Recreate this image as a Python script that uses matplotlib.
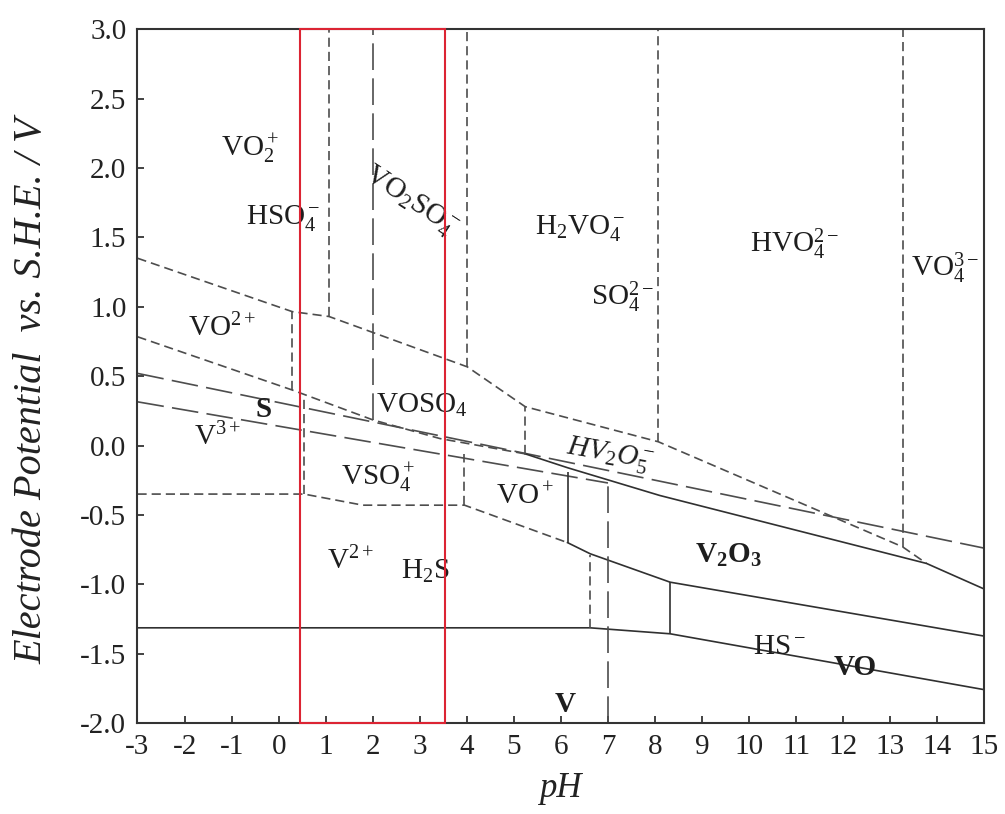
import matplotlib
matplotlib.use("Agg")
import matplotlib.pyplot as plt
from matplotlib.patches import Rectangle

plt.rcParams['font.family'] = ['Liberation Serif', 'DejaVu Serif']
plt.rcParams['mathtext.fontset'] = 'custom'
plt.rcParams['mathtext.rm'] = 'Liberation Serif'
plt.rcParams['mathtext.it'] = 'Liberation Serif:italic'
plt.rcParams['mathtext.bf'] = 'Liberation Serif:bold'
plt.rcParams['axes.unicode_minus'] = False

# ---- boundary lines (pH, E / V) ----
# vanadium aqueous boundaries (short dashes)
upper_ph = [-3, 0.29, 1.07, 4.01, 5.24, 8.07, 13.26, 13.77]
upper_E = [1.35, 0.965, 0.93, 0.567, 0.28, 0.027, -0.73, -0.85]
mid_ph = [-3, 0.29, 2.0, 3.43, 5.24]
mid_E = [0.784, 0.40, 0.185, 0.05, -0.06]
lower_ph = [-3, 0.54, 1.79, 3.95, 6.14]
lower_E = [-0.35, -0.35, -0.43, -0.43, -0.70]

# sulfur boundaries (long dashes)
s1_ph = [-3, 15]
s1_E = [0.52, -0.74]
s2_ph = [-3, 7.0]
s2_E = [0.315, -0.27]

# solid phase boundaries
solid_top_ph = [5.24, 6.14, 8.1, 13.77, 15]
solid_top_E = [-0.06, -0.16, -0.36, -0.85, -1.035]
solid_mid_ph = [6.14, 6.62, 8.32, 15]
solid_mid_E = [-0.70, -0.78, -0.985, -1.374]
solid_bot_ph = [-3, 6.62, 8.32, 15]
solid_bot_E = [-1.314, -1.314, -1.357, -1.76]

# vertical boundaries: pH, top E, bottom E
vdash_ph = [1.07, 4.01, 8.07, 13.26, 0.29, 0.54, 3.95, 5.24, 6.62]
vdash_top = [3.0, 3.0, 3.0, 3.0, 0.96, 0.36, -0.06, 0.28, -0.79]
vdash_bot = [0.93, 0.567, 0.027, -0.73, 0.40, -0.35, -0.43, -0.06, -1.314]
vlong_ph = [2.0, 7.0]
vlong_top = [3.0, -0.27]
vlong_bot = [0.185, -2.0]
vsolid_ph = [6.14, 8.32]
vsolid_top = [-0.19, -0.985]
vsolid_bot = [-0.70, -1.357]

box_ph = [0.45, 3.53]

x_ticks = list(range(-3, 16))
y_ticks = [-2.0, -1.5, -1.0, -0.5, 0.0, 0.5, 1.0, 1.5, 2.0, 2.5, 3.0]

dash_c = '#4d4d4d'
solid_c = '#303030'
short = (5.5, 3)
long_ = (16, 5)

fig = plt.figure(figsize=(10.05, 8.14), dpi=100)
ax = fig.add_axes([0.1368, 0.1118, 0.8427, 0.8522])

for xs, ys in [(upper_ph, upper_E), (mid_ph, mid_E), (lower_ph, lower_E)]:
    ax.plot(xs, ys, color=dash_c, lw=1.2, dashes=short)
for xs, ys in [(s1_ph, s1_E), (s2_ph, s2_E)]:
    ax.plot(xs, ys, color=dash_c, lw=1.2, dashes=long_)
for xs, ys in [(solid_top_ph, solid_top_E), (solid_mid_ph, solid_mid_E), (solid_bot_ph, solid_bot_E)]:
    ax.plot(xs, ys, color=solid_c, lw=1.2)

ax.vlines(vdash_ph, vdash_bot, vdash_top, color=dash_c, lw=1.2, linestyles=[(0, short)])
ax.vlines(vlong_ph, vlong_bot, vlong_top, color=dash_c, lw=1.2, linestyles=[(0, long_)])
ax.vlines(vsolid_ph, vsolid_bot, vsolid_top, color=solid_c, lw=1.2)

ax.add_patch(Rectangle((box_ph[0], -2.0), box_ph[1] - box_ph[0], 5.0,
                       fill=False, edgecolor='#dc2433', lw=1.5, zorder=5, clip_on=False))

fs = 21
lab = dict(fontsize=fs, ha='center', va='center', color='#1e1e1e')
ax.text(-0.61, 2.14, r'VO$_2^+$', **lab)
ax.text(0.09, 1.64, r'HSO$_4^-$', **lab)
ax.text(2.8, 1.76, r'VO$_2$SO$_4^-$', rotation=-33, **lab)
ax.text(6.41, 1.57, r'H$_2$VO$_4^-$', **lab)
ax.text(10.97, 1.45, r'HVO$_4^{2-}$', **lab)
ax.text(14.16, 1.28, r'VO$_4^{3-}$', **lab)
ax.text(7.3, 1.07, r'SO$_4^{2-}$', **lab)
ax.text(-1.2, 0.85, r'VO$^{2+}$', **lab)
ax.text(-0.31, 0.26, 'S', fontweight='bold', **lab)
ax.text(-1.29, 0.06, r'V$^{3+}$', **lab)
ax.text(3.05, 0.29, r'VOSO$_4$', **lab)
ax.text(7.04, -0.07, r'$HV_2O_5^-$', rotation=-10, **lab)
ax.text(2.11, -0.23, r'VSO$_4^+$', **lab)
ax.text(5.24, -0.37, r'VO$^+$', **lab)
ax.text(9.55, -0.79, r'$\mathbf{V_2O_3}$', **lab)
ax.text(1.52, -0.83, r'V$^{2+}$', **lab)
ax.text(3.11, -0.91, r'H$_2$S', **lab)
ax.text(10.65, -1.45, r'HS$^-$', **lab)
ax.text(12.25, -1.6, 'VO', fontweight='bold', **lab)
ax.text(6.09, -1.87, 'V', fontweight='bold', **lab)

ax.set_xlim(-3, 15)
ax.set_ylim(-2.0, 3.0)
ax.set_xticks(x_ticks)
ax.set_xticklabels([str(t) for t in x_ticks])
ax.set_yticks(y_ticks)
ax.set_yticklabels(['%.1f' % t for t in y_ticks])
ax.tick_params(direction='in', length=5, width=1.2, labelsize=21, colors='#222222', pad=8)
ax.tick_params(top=False, right=False)
for sp in ax.spines.values():
    sp.set_linewidth(1.5)
    sp.set_color('#333333')

ax.set_xlabel('pH', fontsize=25, style='italic', color='#222222')
ax.set_ylabel('Electrode Potential  vs. S.H.E. / V', fontsize=29, style='italic', color='#222222')
ax.xaxis.set_label_coords(0.499, -0.07)
ax.yaxis.set_label_coords(-0.103, 0.479)

plt.savefig('out.png', dpi=100)
